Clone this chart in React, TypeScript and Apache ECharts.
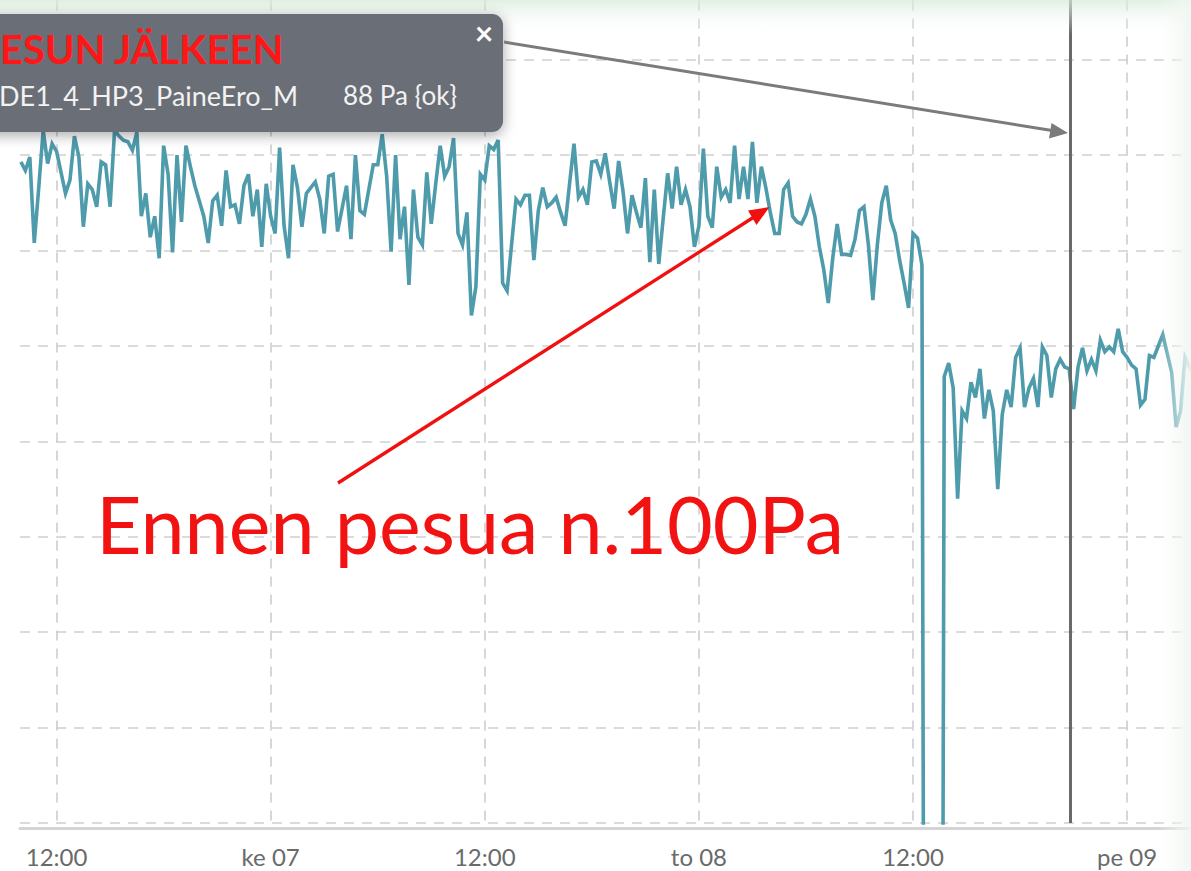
import React, { useEffect, useRef } from 'react';
import * as echarts from 'echarts';

// Time in hours counted from Tue 06 00:00, one reading every 15 minutes
const START_HOUR = 10;
const STEP_HOURS = 0.25;

// Pressure difference readings (Pa)
const PRESSURE_PA = [
  99.65, 99.2, 99.9, 95.4, 98.3, 101.3, 99.56, 100.6, 100.2, 99.1,
  98.0, 98.7, 101.0, 99.9, 96.25, 98.5, 98.2, 97.3, 99.65, 99.5,
  97.3, 101.3, 101.0, 100.78, 100.7, 100.26, 101.2, 96.8, 98.0, 95.7,
  96.8, 94.6, 100.5, 99.0, 94.9, 100.0, 96.5, 100.5, 99.4, 98.4,
  97.6, 96.8, 95.4, 97.6, 97.9, 96.3, 99.2, 97.3, 97.4, 96.4,
  98.4, 99.0, 96.8, 98.2, 95.2, 98.5, 96.8, 95.9, 100.4, 96.3,
  94.6, 99.5, 98.3, 96.25, 98.0, 98.3, 98.6, 97.7, 95.9, 98.9,
  99.0, 96.0, 97.2, 98.4, 95.6, 100.0, 97.1, 96.9, 98.2, 99.5,
  99.5, 101.1, 98.9, 94.95, 100.0, 95.6, 97.3, 93.2, 98.2, 95.7,
  95.3, 99.1, 96.4, 98.5, 100.5, 98.9, 99.4, 100.9, 95.9, 95.3,
  97.0, 91.6, 93.1, 99.0, 98.7, 100.5, 100.3, 100.8, 93.3, 92.9,
  95.3, 97.7, 97.4, 97.9, 97.9, 94.5, 97.1, 98.3, 97.3, 97.5,
  97.8, 97.0, 96.3, 98.5, 100.6, 97.8, 98.2, 97.4, 99.65, 99.7,
  99.0, 100.1, 98.6, 97.2, 99.7, 98.1, 95.9, 97.9, 97.0, 96.2,
  98.8, 94.4, 98.2, 94.3, 96.7, 99.05, 97.2, 99.4, 97.4, 98.2,
  97.3, 95.2, 96.3, 100.35, 96.8, 96.2, 99.4, 97.8, 98.2, 97.5,
  100.5, 97.7, 99.4, 97.7, 100.7, 97.5, 99.4, 98.3, 97.0, 95.9,
  95.9, 98.2, 98.55, 96.8, 96.5, 96.4, 96.9, 97.7, 96.8, 95.2,
  94.0, 92.25, 94.6, 96.4, 94.8, 94.8, 94.75, 95.6, 97.1, 97.3,
  95.3, 92.4, 95.3, 97.5, 98.4, 96.6, 95.9, 94.5, 93.3, 92.0,
  95.9, 95.65, 94.25, 0, 0, 0, 0, 88.4, 89.1, 87.8,
  82.0, 86.6, 86.2, 88.1, 87.3, 88.8, 86.2, 87.7, 86.6, 82.5,
  86.4, 87.7, 86.8, 89.4, 89.9, 86.8, 87.8, 88.3, 86.8, 89.95,
  89.5, 87.3, 88.8, 89.3, 88.9, 88.8, 86.7, 88.9, 89.9, 88.7,
  89.3, 88.7, 90.3, 89.7, 89.95, 89.7, 90.9, 89.7, 89.4, 89.0,
  88.8, 86.9, 87.2, 89.5, 89.4, 90.0, 90.6, 89.6, 88.6, 85.75,
  86.6, 89.4, 88.9, 88.5,
];

const TICK_HOURS = [12, 24, 36, 48, 60, 72];
const TICK_LABELS = ['12:00', 'ke 07', '12:00', 'to 08', '12:00', 'pe 09'];

const X_MIN = 9.95;
const X_MAX = 75.58;
const Y_MIN = 65;
const Y_MAX = 110;
const Y_STEP = 5;

const CURSOR_HOUR = 68.8;

const POPUP_TITLE = 'ESUN JÄLKEEN';
const POPUP_SENSOR = 'DE1_4_HP3_PaineEro_M';
const POPUP_VALUE = '88 Pa {ok}';
const POPUP_CLOSE = '×';
const NOTE_TEXT = 'Ennen pesua n.100Pa';

const FONT = 'Lato, "Open Sans", sans-serif';

export default function App() {
  const ref = useRef<HTMLDivElement>(null);

  useEffect(() => {
    if (!ref.current) return;
    const chart = echarts.init(ref.current, undefined, { renderer: 'svg' });

    const seriesData = PRESSURE_PA.map((v, i) => [START_HOUR + i * STEP_HOURS, v]);
    const gridLine = { color: '#d0d0d0', width: 1.7, type: [10, 8] as any };

    const grayHead = [[1068, 133], [1049, 138.5], [1051.5, 123]];
    const redHead = [[769.5, 207], [756.5, 225], [748, 210.5]];

    const option: any = {
      animation: false,
      backgroundColor: '#ffffff',
      textStyle: { fontFamily: FONT },
      grid: {
        left: 20,
        top: -35.6,
        width: 1171,
        height: 858.6,
        containLabel: false,
        outerBoundsMode: 'none',
      },
      xAxis: {
        type: 'value',
        min: X_MIN,
        max: X_MAX,
        offset: 5,
        axisLine: { show: true, onZero: false, lineStyle: { color: '#d4d4d4', width: 3 } },
        axisTick: { show: false, customValues: TICK_HOURS },
        axisLabel: {
          customValues: TICK_HOURS,
          formatter: (v: number) => {
            const k = TICK_HOURS.findIndex((t) => Math.abs(t - v) < 1e-6);
            return k >= 0 ? TICK_LABELS[k] : '';
          },
          color: '#6a6a6a',
          fontSize: 24,
          fontFamily: FONT,
          margin: 16,
        },
        splitLine: { show: true, lineStyle: gridLine },
      },
      yAxis: {
        type: 'value',
        min: Y_MIN,
        max: Y_MAX,
        interval: Y_STEP,
        axisLine: { show: false },
        axisTick: { show: false },
        axisLabel: { show: false },
        splitLine: { show: true, lineStyle: gridLine },
      },
      series: [
        {
          type: 'line',
          data: seriesData,
          showSymbol: false,
          silent: true,
          clip: true,
          lineStyle: { color: '#4e9bac', width: 3.6, join: 'miter' },
          z: 3,
          markLine: {
            silent: true,
            symbol: ['none', 'none'],
            label: { show: false },
            lineStyle: { color: '#696969', width: 3, type: 'solid' },
            data: [{ xAxis: CURSOR_HOUR }],
          },
        },
      ],
      graphic: [
        {
          type: 'rect',
          z: 90,
          shape: { x: 0, y: 0, width: 1191, height: 34 },
          style: {
            fill: new echarts.graphic.LinearGradient(0, 0, 0, 1, [
              { offset: 0, color: 'rgba(214,234,216,0.75)' },
              { offset: 1, color: 'rgba(255,255,255,0)' },
            ]),
          },
        },
        {
          type: 'rect',
          z: 95,
          shape: { x: 1158, y: 0, width: 33, height: 871 },
          style: {
            fill: new echarts.graphic.LinearGradient(0, 0, 1, 0, [
              { offset: 0, color: 'rgba(248,250,248,0)' },
              { offset: 1, color: 'rgba(240,246,241,0.95)' },
            ]),
          },
        },
        {
          type: 'rect',
          z: 100,
          shape: { x: -20, y: 14, width: 523, height: 118, r: 11 },
          style: {
            fill: '#6b6e76',
            shadowBlur: 14,
            shadowColor: 'rgba(0,0,0,0.35)',
            shadowOffsetY: 3,
          },
        },
        {
          type: 'text',
          z: 101,
          x: 0,
          y: 49,
          style: {
            text: POPUP_TITLE,
            fill: '#ff1616',
            font: `bold 40px ${FONT}`,
            textAlign: 'left',
            textVerticalAlign: 'middle',
            verticalAlign: 'middle',
          },
        },
        {
          type: 'text',
          z: 101,
          x: -1,
          y: 95,
          style: {
            text: POPUP_SENSOR,
            fill: '#f2f2f2',
            font: `27px ${FONT}`,
            textAlign: 'left',
            textVerticalAlign: 'middle',
            verticalAlign: 'middle',
          },
        },
        {
          type: 'text',
          z: 101,
          x: 343,
          y: 95,
          style: {
            text: POPUP_VALUE,
            fill: '#f2f2f2',
            font: `26px ${FONT}`,
            textAlign: 'left',
            textVerticalAlign: 'middle',
            verticalAlign: 'middle',
          },
        },
        {
          type: 'text',
          z: 101,
          x: 484,
          y: 32,
          style: {
            text: POPUP_CLOSE,
            fill: '#ffffff',
            font: `bold 32px ${FONT}`,
            textAlign: 'center',
            textVerticalAlign: 'middle',
            verticalAlign: 'middle',
          },
        },
        {
          type: 'line',
          z: 100,
          shape: { x1: 504, y1: 42, x2: 1052, y2: 130.5 },
          style: { stroke: '#7b7b7b', lineWidth: 3 },
        },
        {
          type: 'polygon',
          z: 100,
          shape: { points: grayHead },
          style: { fill: '#7b7b7b' },
        },
        {
          type: 'line',
          z: 100,
          shape: { x1: 338, y1: 483, x2: 754, y2: 217 },
          style: { stroke: '#f01010', lineWidth: 3.3 },
        },
        {
          type: 'polygon',
          z: 100,
          shape: { points: redHead },
          style: { fill: '#f01010' },
        },
        {
          type: 'text',
          z: 101,
          x: 96,
          y: 523,
          style: {
            text: NOTE_TEXT,
            fill: '#f21212',
            font: `79px ${FONT}`,
            textAlign: 'left',
            textVerticalAlign: 'middle',
            verticalAlign: 'middle',
          },
        },
      ],
    };

    chart.setOption(option);
    return () => chart.dispose();
  }, []);

  return (
    <div
      ref={ref}
      style={{ position: 'absolute', left: 0, top: 0, width: 1191, height: 871, background: '#fff' }}
    />
  );
}
